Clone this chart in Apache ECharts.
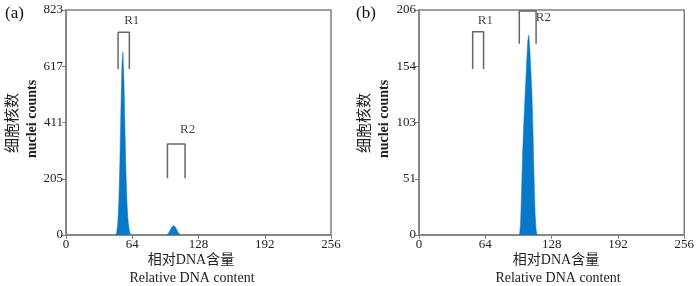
<!DOCTYPE html>
<html><head><meta charset="utf-8">
<script src="https://cdn.jsdelivr.net/npm/echarts@6/dist/echarts.min.js"></script>
<style>html,body{margin:0;padding:0;background:#fff}#c{width:697px;height:286px}</style>
</head><body><div id="c"></div>
<script>
// ---- data ----
const xTicks = [0, 64, 128, 192, 256];
const yMaxA = 823, yMaxB = 206;
// panel (a): channels and counts
const aPeak1Ch = [48,49,50,51,52,53,54,55,56,57,58,59,60,61,62,63];
const aPeak1Val = [0,10,40,120,260,450,620,670,560,380,220,110,50,20,5,0];
const aPeak2Ch = [97,98,99,100,101,102,103,104,105,106,107,108,109,110,111];
const aPeak2Val = [0,2,6,12,20,28,33,35,33,27,19,11,5,2,0];
// panel (b)
const bPeakCh = [97,98,99,100,101,102,103,104,105,106,107,108,109,110,111,112,113,114];
const bPeakVal = [0,10,40,75,100,120,140,160,178,183,170,150,130,95,55,20,5,0];
// gates: [xStart, xEnd, yTop, yBottom]
const aGateR1 = [50.3, 61.2, 742, 607];
const aGateR2 = [98, 115, 333, 208];
const bGateR1 = [51.8, 62.3, 186, 152];
const bGateR2 = [96.8, 113, 205, 175];

const serif = '"Liberation Serif","Times New Roman",serif';
const cjk = '"Liberation Serif","Noto Sans CJK SC",serif';
const axisGray = '#808080';
const blue = '#0a78c8';

function hist(ch, val){ return ch.map((c,i)=>[c, val[i]]); }
function gate(g){ return [[g[0],g[3]],[g[0],g[2]],[g[1],g[2]],[g[1],g[3]]]; }

function xAxis(gi){
  return {gridIndex:gi, type:'value', min:0, max:256, interval:64,
    axisLine:{show:true, onZero:false, lineStyle:{color:axisGray, width:1.5}},
    axisTick:{show:true, length:4, lineStyle:{color:axisGray}},
    axisLabel:{color:'#222', fontFamily:serif, fontSize:13, margin:3},
    splitLine:{show:false}};
}
function yAxis(gi, max){
  return {gridIndex:gi, type:'value', min:0, max:max, interval:max/4,
    axisLine:{show:true, lineStyle:{color:axisGray, width:1.5}},
    axisTick:{show:true, length:4, lineStyle:{color:axisGray}},
    axisLabel:{color:'#222', fontFamily:serif, fontSize:13, margin:3,
      formatter:v=>String(Math.floor(v+1e-9))},
    splitLine:{show:false}};
}
function histSeries(gi, data){
  return {type:'line', xAxisIndex:gi, yAxisIndex:gi, data:data, symbol:'none',
    lineStyle:{color:blue, width:0.5}, areaStyle:{color:blue, opacity:1}, silent:true, z:3};
}
function gateSeries(gi, g){
  return {type:'line', xAxisIndex:gi, yAxisIndex:gi, data:gate(g), symbol:'none',
    lineStyle:{color:'#666', width:1.5}, silent:true, z:4};
}
function labelSeries(gi, pts){
  return {type:'scatter', xAxisIndex:gi, yAxisIndex:gi, symbolSize:0, silent:true,
    data:pts.map(p=>({value:[p[0],p[1]], label:{show:true, formatter:p[2], position:'inside',
      color:'#111', fontFamily:serif, fontSize:13}}))};
}

const chart = echarts.init(document.getElementById('c'));
chart.setOption({
  animation:false,
  grid:[
    {left:66, top:10, width:265, height:225, show:true, borderColor:axisGray, borderWidth:1.5},
    {left:419, top:10, width:267, height:225, show:true, borderColor:axisGray, borderWidth:1.5}
  ],
  xAxis:[xAxis(0), xAxis(1)],
  yAxis:[yAxis(0, yMaxA), yAxis(1, yMaxB)],
  series:[
    histSeries(0, hist(aPeak1Ch, aPeak1Val)),
    histSeries(0, hist(aPeak2Ch, aPeak2Val)),
    gateSeries(0, aGateR1), gateSeries(0, aGateR2),
    labelSeries(0, [[63.5, 785, 'R1'], [117.5, 385, 'R2']]),
    histSeries(1, hist(bPeakCh, bPeakVal)),
    gateSeries(1, bGateR1), gateSeries(1, bGateR2),
    labelSeries(1, [[64, 196, 'R1'], [120, 199, 'R2']])
  ],
  graphic:[
    {type:'text', left:5, top:5, style:{text:'(a)', font:'17px '+serif, fill:'#111'}},
    {type:'text', left:356, top:5, style:{text:'(b)', font:'17px '+serif, fill:'#111'}},
    {type:'text', x:13, y:123, rotation:Math.PI/2, style:{text:'细胞核数', font:'15px '+cjk, fill:'#222', align:'center', verticalAlign:'middle'}},
    {type:'text', x:32, y:119, rotation:Math.PI/2, style:{text:'nuclei counts', font:'bold 14px '+serif, fill:'#222', align:'center', verticalAlign:'middle'}},
    {type:'text', x:365, y:123, rotation:Math.PI/2, style:{text:'细胞核数', font:'15px '+cjk, fill:'#222', align:'center', verticalAlign:'middle'}},
    {type:'text', x:384, y:119, rotation:Math.PI/2, style:{text:'nuclei counts', font:'bold 14px '+serif, fill:'#222', align:'center', verticalAlign:'middle'}},
    {type:'text', x:191, y:260, style:{text:'相对DNA含量', font:'14px '+cjk, fill:'#222', align:'center', verticalAlign:'middle'}},
    {type:'text', x:192, y:278, style:{text:'Relative DNA content', font:'14px '+serif, fill:'#222', align:'center', verticalAlign:'middle'}},
    {type:'text', x:556, y:260, style:{text:'相对DNA含量', font:'14px '+cjk, fill:'#222', align:'center', verticalAlign:'middle'}},
    {type:'text', x:558, y:278, style:{text:'Relative DNA content', font:'14px '+serif, fill:'#222', align:'center', verticalAlign:'middle'}}
  ]
});
</script></body></html>
